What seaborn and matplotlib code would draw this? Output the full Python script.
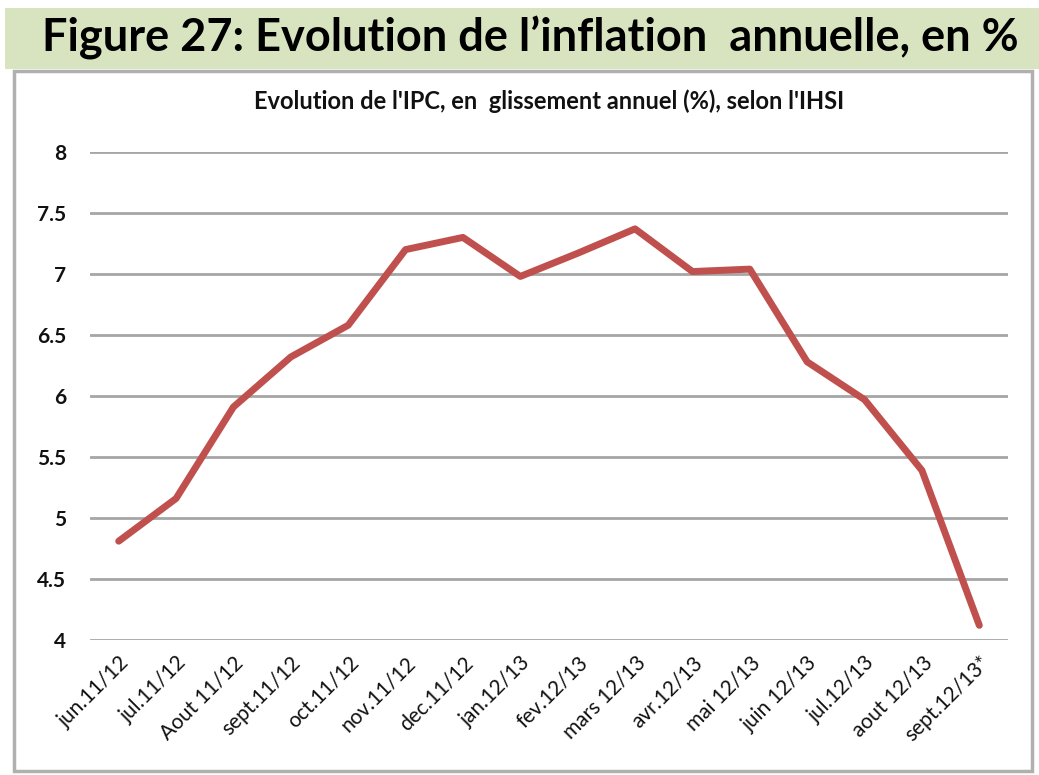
import pandas as pd
import seaborn as sns
import matplotlib.pyplot as plt
from matplotlib.patches import Rectangle

# Glissement annuel de l'IPC (%), selon l'IHSI
months = ["jun.11/12", "jul.11/12", "Aout 11/12", "sept.11/12", "oct.11/12",
          "nov.11/12", "dec.11/12", "jan.12/13", "fev.12/13", "mars 12/13",
          "avr.12/13", "mai 12/13", "juin 12/13", "jul.12/13", "aout 12/13",
          "sept.12/13*"]
inflation = [4.81, 5.16, 5.91, 6.32, 6.58, 7.20, 7.30, 6.98, 7.17, 7.37,
             7.02, 7.04, 6.28, 5.97, 5.39, 4.12]
y_ticks = [4, 4.5, 5, 5.5, 6, 6.5, 7, 7.5, 8]
y_tick_labels = ["4", "4.5", "5", "5.5", "6", "6.5", "7", "7.5", "8"]

df = pd.DataFrame({"Mois": months, "IPC": inflation})

sns.set_theme(style="white")
plt.rcParams["font.family"] = ["Lato", "DejaVu Sans"]

fig = plt.figure(figsize=(10.39, 7.75), dpi=100)

# title band and chart panel
fig.patches.append(Rectangle((5 / 1039, 1 - 69 / 775), 1034 / 1039, 61 / 775,
                             transform=fig.transFigure, facecolor="#d8e4bf",
                             edgecolor="none", zorder=-2))
fig.patches.append(Rectangle((14 / 1039, 1 - 771 / 775), 1018 / 1039, 700 / 775,
                             transform=fig.transFigure, facecolor="white",
                             edgecolor="#b0b0b0", linewidth=2.5, zorder=-2))

fig.text(0.51, 1 - 38 / 775, "Figure 27: Evolution de l’inflation  annuelle, en %",
         ha="center", va="center", fontsize=32.5, fontweight="bold", color="black")

ax = fig.add_axes([90 / 1039, 1 - 640 / 775, 918 / 1039, 488 / 775])
ax.set_facecolor("none")
sns.lineplot(data=df, x="Mois", y="IPC", ax=ax, color="#c0504d",
             linewidth=5, sort=False)

ax.set_title("Evolution de l'IPC, en  glissement annuel (%), selon l'IHSI",
             fontsize=17, fontweight="bold", color="#111111", pad=31)
ax.set_ylim(4, 8)
ax.set_xlim(-0.5, len(months) - 0.5)
ax.set_yticks(y_ticks)
ax.set_yticklabels(y_tick_labels)
ax.set_xlabel("")
ax.set_ylabel("")
for y in y_ticks:
    ax.axhline(y, color="#a6a6a6", linewidth=2, zorder=0)
for s in ax.spines.values():
    s.set_visible(False)
ax.tick_params(axis="y", length=0, pad=17, labelsize=15, labelcolor="#111111")
ax.tick_params(axis="x", length=0, pad=9, labelsize=15, labelcolor="#111111")
plt.setp(ax.get_yticklabels(), fontweight="bold")
plt.setp(ax.get_xticklabels(), rotation=45, ha="right", rotation_mode="anchor")

fig.savefig("out.png", dpi=100)
